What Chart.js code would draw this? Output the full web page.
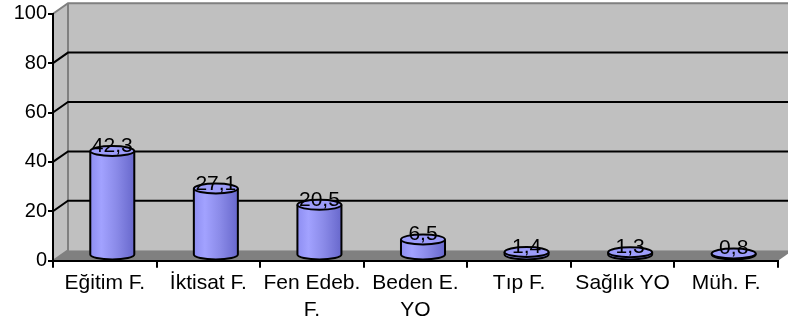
<!DOCTYPE html>
<html>
<head>
<meta charset="utf-8">
<script src="https://cdn.jsdelivr.net/npm/chart.js@4/dist/chart.umd.min.js"></script>
<style>
  html, body { margin: 0; padding: 0; background: #fff; }
  canvas { display: block; }
</style>
</head>
<body>
<canvas id="c" width="788" height="327"></canvas>
<script>
// Faculty names (multi-line where the label wraps) and their percentage shares
const categories = ['Eğitim F.', 'İktisat F.', ['Fen Edeb.', 'F.'], ['Beden E.', 'YO'], 'Tıp F.', 'Sağlık YO', 'Müh. F.'];
const shares = [42.3, 27.1, 20.5, 6.5, 1.4, 1.3, 0.8];
const yTicks = [0, 20, 40, 60, 80, 100];

// Depth of the pseudo-3D frame (back wall offset from the front plane)
const DX = 15, DY = 10.5;
const FONT = '"Liberation Sans", Arial, sans-serif';

const fmt = v => v.toFixed(1).replace('.', ',');

const frame3d = {
  id: 'frame3d',
  beforeDraw(chart) {
    const { ctx, chartArea: a, scales: { y } } = chart;
    const W = chart.width;
    const top = y.getPixelForValue(yTicks[yTicks.length - 1]);
    const base = y.getPixelForValue(0);
    ctx.save();
    // back wall
    ctx.fillStyle = '#c0c0c0';
    ctx.fillRect(a.left + DX, top - DY, W - a.left - DX, base - top);
    // side wall
    ctx.beginPath();
    ctx.moveTo(a.left, top);
    ctx.lineTo(a.left + DX, top - DY);
    ctx.lineTo(a.left + DX, base - DY);
    ctx.lineTo(a.left, base);
    ctx.closePath();
    ctx.fill();
    // floor
    ctx.fillStyle = '#808080';
    ctx.beginPath();
    ctx.moveTo(a.left, base);
    ctx.lineTo(a.left + DX, base - DY);
    ctx.lineTo(a.right + DX, base - DY);
    ctx.lineTo(a.right, base);
    ctx.closePath();
    ctx.fill();
    // wall edges
    ctx.strokeStyle = '#808080';
    ctx.lineWidth = 2;
    ctx.beginPath();
    ctx.moveTo(a.left, top);
    ctx.lineTo(a.left + DX, top - DY);
    ctx.lineTo(W, top - DY);
    ctx.moveTo(a.left + DX, top - DY);
    ctx.lineTo(a.left + DX, base - DY);
    ctx.lineTo(a.left, base);
    ctx.stroke();
    // gridlines across the side and back walls
    ctx.strokeStyle = '#000';
    ctx.lineWidth = 2;
    yTicks.slice(1, -1).forEach(v => {
      const yf = y.getPixelForValue(v);
      ctx.beginPath();
      ctx.moveTo(a.left, yf);
      ctx.lineTo(a.left + DX, yf - DY);
      ctx.lineTo(W, yf - DY);
      ctx.stroke();
    });
    ctx.restore();
  },
  afterDatasetsDraw(chart) {
    const { ctx } = chart;
    const meta = chart.getDatasetMeta(0);
    ctx.save();
    meta.data.forEach((bar, i) => {
      const rx = bar.width / 2, ry = 5;
      const cx = bar.x + DX / 2;
      const yt = bar.y - DY / 2, yb = bar.base - DY / 2;
      const g = ctx.createLinearGradient(cx - rx, 0, cx + rx, 0);
      g.addColorStop(0, '#8e8ef2');
      g.addColorStop(0.25, '#a2a2ff');
      g.addColorStop(0.6, '#8a8ae8');
      g.addColorStop(1, '#6868cc');
      // body
      ctx.beginPath();
      ctx.moveTo(cx - rx, yt);
      ctx.lineTo(cx - rx, yb);
      ctx.ellipse(cx, yb, rx, ry, 0, Math.PI, 0, true);
      ctx.lineTo(cx + rx, yt);
      ctx.closePath();
      ctx.fillStyle = g;
      ctx.fill();
      ctx.beginPath();
      ctx.moveTo(cx - rx, yt);
      ctx.lineTo(cx - rx, yb);
      ctx.ellipse(cx, yb, rx, ry, 0, Math.PI, 0, true);
      ctx.lineTo(cx + rx, yt);
      ctx.strokeStyle = '#000';
      ctx.lineWidth = 2;
      ctx.stroke();
      // top cap
      ctx.beginPath();
      ctx.ellipse(cx, yt, rx, ry, 0, 0, Math.PI * 2);
      ctx.fillStyle = '#9c9cfa';
      ctx.fill();
      ctx.stroke();
      // value label
      ctx.fillStyle = '#000';
      ctx.font = '21px ' + FONT;
      ctx.textAlign = 'center';
      ctx.textBaseline = 'alphabetic';
      ctx.fillText(fmt(shares[i]), cx, yt + 1);
    });
    ctx.restore();
  }
};

new Chart(document.getElementById('c'), {
  type: 'bar',
  data: {
    labels: categories,
    datasets: [{
      data: shares,
      backgroundColor: 'rgba(0,0,0,0)',
      borderWidth: 0,
      categoryPercentage: 1,
      barPercentage: 0.425
    }]
  },
  options: {
    responsive: false,
    animation: false,
    devicePixelRatio: 1,
    layout: { padding: { top: 13.7, right: 10, left: 0, bottom: 0 } },
    plugins: { legend: { display: false }, tooltip: { enabled: false } },
    scales: {
      x: {
        grid: { display: true, offset: true, drawOnChartArea: false, drawTicks: true, tickLength: 7, color: '#000', lineWidth: 2 },
        border: { display: true, color: '#000', width: 2 },
        ticks: {
          color: '#000', maxRotation: 0, autoSkip: false, padding: 2,
          font: { family: FONT, size: 21, lineHeight: 1.3 }
        },
        afterFit(s) { s.height = 66.3; }
      },
      y: {
        min: 0, max: 100,
        grid: { display: true, drawOnChartArea: false, drawTicks: true, tickLength: 5, color: '#000', lineWidth: 2 },
        border: { display: true, color: '#000', width: 2 },
        ticks: {
          stepSize: 20, color: '#000', padding: 1,
          font: { family: FONT, size: 20 }
        },
        afterFit(s) { s.width = 53; }
      }
    }
  },
  plugins: [frame3d]
});
</script>
</body>
</html>
